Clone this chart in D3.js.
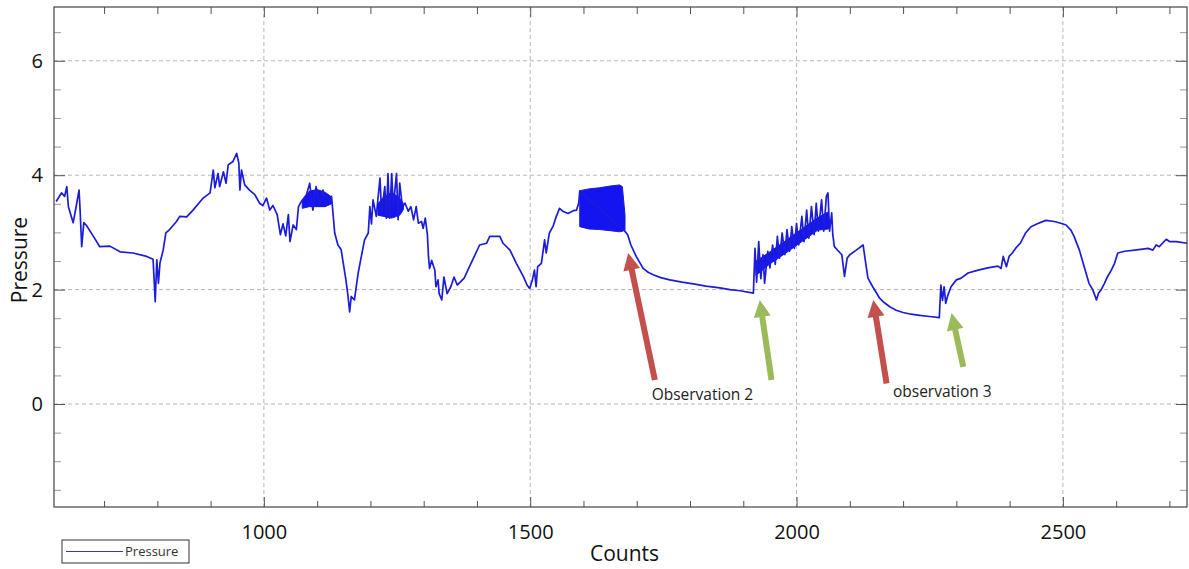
<!DOCTYPE html>
<html>
<head>
<meta charset="utf-8">
<script src="https://cdn.jsdelivr.net/npm/d3@7"></script>
<style>
  body { margin: 0; background: #fff; }
  svg text { font-family: "Open Sans", "Liberation Sans", sans-serif; }
</style>
</head>
<body>
<div id="chart"></div>
<script>
// pressure trace (counts, pressure)
const counts = [610, 620, 626, 630, 633, 642, 646, 653, 655, 658, 662, 667, 680, 692, 711, 730, 754, 780, 792, 796,
  799, 802, 805, 811, 816, 823, 836, 842, 855, 867, 886, 899, 905, 908, 914, 917, 924, 929, 933, 942,
  949, 953, 955, 958, 964, 973, 983, 992, 998, 1005, 1011, 1017, 1025, 1031, 1036, 1041, 1046, 1049, 1055, 1061,
  1065, 1071, 1080, 1086, 1092, 1098, 1105, 1111, 1117, 1127, 1133, 1139, 1145, 1154, 1158, 1161, 1164, 1170, 1177, 1183,
  1189, 1196, 1199, 1202, 1205, 1211, 1218, 1221, 1227, 1230, 1233, 1236, 1240, 1243, 1246, 1249, 1252, 1255, 1260, 1265,
  1271, 1276, 1281, 1286, 1290, 1296, 1299, 1303, 1307, 1309, 1311, 1315, 1321, 1323, 1327, 1329, 1334, 1338, 1344, 1351,
  1357, 1363, 1376, 1386, 1395, 1405, 1418, 1424, 1434, 1443, 1449, 1462, 1474, 1487, 1494, 1499, 1504, 1508, 1511, 1514,
  1521, 1527, 1530, 1536, 1543, 1549, 1555, 1561, 1571, 1581, 1587, 1591, 1593, 1676, 1683, 1689, 1699, 1712, 1722, 1731,
  1745, 1762, 1785, 1806, 1830, 1856, 1875, 1894, 1919, 1922, 1925, 1929, 1933, 1937, 1940, 1946, 1950, 1955, 1960, 1964,
  1968, 1973, 1978, 1982, 1987, 1991, 1996, 2000, 2004, 2010, 2014, 2019, 2023, 2028, 2033, 2037, 2041, 2047, 2051, 2056,
  2059, 2062, 2066, 2068, 2071, 2078, 2085, 2090, 2095, 2100, 2112, 2125, 2128, 2134, 2143, 2156, 2165, 2175, 2187, 2200,
  2215, 2231, 2250, 2268, 2271, 2274, 2277, 2280, 2284, 2290, 2300, 2309, 2322, 2341, 2359, 2378, 2384, 2388, 2394, 2399,
  2405, 2411, 2420, 2430, 2440, 2452, 2468, 2484, 2496, 2506, 2515, 2521, 2531, 2540, 2549, 2556, 2563, 2567, 2572, 2578,
  2584, 2591, 2597, 2603, 2616, 2635, 2660, 2669, 2675, 2681, 2694, 2700, 2713, 2733];
const pressure = [3.54, 3.69, 3.63, 3.80, 3.45, 3.17, 3.37, 3.74, 3.39, 2.75, 3.17, 3.12, 2.93, 2.75, 2.76, 2.66, 2.64, 2.58, 2.53, 1.79,
  2.52, 2.11, 2.47, 2.69, 2.99, 3.05, 3.19, 3.28, 3.27, 3.39, 3.60, 3.69, 4.09, 3.78, 4.03, 3.80, 4.06, 3.86, 4.18, 4.24,
  4.38, 4.21, 3.74, 4.09, 3.83, 3.74, 3.66, 3.51, 3.47, 3.60, 3.39, 3.47, 3.31, 2.96, 3.15, 2.94, 3.31, 2.84, 3.13, 3.05,
  3.45, 3.55, 3.66, 3.86, 3.39, 3.80, 3.47, 3.74, 3.47, 3.63, 2.99, 2.78, 2.70, 2.17, 1.88, 1.61, 1.88, 1.82, 2.29, 2.58,
  2.87, 2.99, 3.45, 3.15, 3.57, 3.28, 3.95, 3.34, 3.80, 3.25, 4.03, 3.25, 4.03, 3.45, 3.74, 4.03, 3.22, 3.86, 3.45, 3.51,
  3.37, 3.45, 3.22, 3.45, 3.16, 3.19, 3.07, 3.25, 2.96, 2.58, 2.37, 2.51, 2.34, 2.05, 2.17, 1.93, 1.82, 2.22, 1.93, 2.05,
  2.22, 2.08, 2.20, 2.40, 2.58, 2.78, 2.81, 2.93, 2.93, 2.93, 2.81, 2.69, 2.46, 2.23, 2.08, 2.02, 2.17, 2.34, 2.05, 2.40,
  2.46, 2.87, 2.64, 2.99, 3.11, 3.28, 3.42, 3.37, 3.33, 3.38, 3.39, 3.51, 3.72, 3.04, 2.96, 2.78, 2.58, 2.37, 2.30, 2.26,
  2.21, 2.17, 2.13, 2.10, 2.06, 2.03, 2.00, 1.98, 1.94, 2.72, 2.13, 2.84, 2.19, 2.61, 2.11, 2.67, 2.38, 2.78, 2.44, 2.93,
  2.55, 2.99, 2.61, 3.05, 2.67, 3.10, 2.72, 3.16, 2.78, 3.28, 2.84, 3.39, 2.90, 3.45, 2.96, 3.51, 3.02, 3.57, 3.02, 3.63,
  3.69, 3.02, 3.34, 2.96, 2.75, 2.68, 2.61, 2.23, 2.55, 2.61, 2.69, 2.78, 2.58, 2.20, 2.05, 1.85, 1.77, 1.70, 1.64, 1.60,
  1.57, 1.55, 1.53, 1.51, 2.08, 1.81, 2.05, 1.76, 1.90, 2.05, 2.17, 2.20, 2.29, 2.34, 2.38, 2.41, 2.37, 2.58, 2.40, 2.58,
  2.64, 2.72, 2.81, 2.99, 3.10, 3.15, 3.21, 3.19, 3.16, 3.13, 3.04, 2.93, 2.69, 2.40, 2.11, 2.00, 1.82, 1.94, 2.00, 2.11,
  2.23, 2.34, 2.46, 2.64, 2.67, 2.69, 2.72, 2.69, 2.78, 2.75, 2.88, 2.84, 2.84, 2.81];

// dense oscillation blocks, drawn as upper / lower envelopes
const band1Counts = [1593, 1610, 1630, 1650, 1668, 1673, 1678];
const band1High = [3.73, 3.76, 3.78, 3.81, 3.83, 3.80, 3.30];
const band1Low = [3.10, 3.06, 3.05, 3.03, 3.01, 3.02, 3.04];
const band2Counts = [1214, 1225, 1240, 1255, 1262];
const band2High = [3.50, 3.62, 3.70, 3.60, 3.50];
const band2Low = [3.30, 3.28, 3.25, 3.30, 3.40];
const band3Counts = [1072, 1085, 1100, 1115, 1127];
const band3High = [3.55, 3.72, 3.75, 3.70, 3.62];
const band3Low = [3.42, 3.45, 3.45, 3.45, 3.50];
const band4Counts = [1924, 1950, 1980, 2010, 2040, 2060];
const band4High = [2.50, 2.66, 2.86, 3.06, 3.26, 3.36];
const band4Low = [2.25, 2.45, 2.64, 2.84, 3.04, 3.06];

const xMajorTicks = [1000, 1500, 2000, 2500];
const xMinorTicks = [700, 800, 900, 1100, 1200, 1300, 1400, 1600, 1700, 1800, 1900, 2100, 2200, 2300, 2400, 2600, 2700];
const yMajorTicks = [0, 2, 4, 6];
const yMinorTicks = [-1.5, -1, -0.5, 0.5, 1, 1.5, 2.5, 3, 3.5, 4.5, 5, 5.5, 6.5];

// annotation arrows: tail -> tip, in data units
const arrowKind = ["red", "green", "red", "green"];
const arrowTail = [[1734, 0.42], [1953, 0.42], [2169, 0.36], [2313, 0.65]];
const arrowTip = [[1684, 2.64], [1931, 1.82], [2144, 1.82], [2291, 1.59]];
const noteText = ["Observation 2", "observation 3"];
const notePos = [[1728, 0.07], [2181, 0.13]];

const W = 1189, H = 569;
const plot = { left: 54, right: 1187, top: 7, bottom: 507 };

const svg = d3.select("#chart").append("svg")
  .attr("width", W)
  .attr("height", H);

const x = d3.scaleLinear().domain([606, 2733]).range([plot.left, plot.right]);
const y = d3.scaleLinear().domain([-1.8, 6.94]).range([plot.bottom, plot.top]);

// grid
const grid = svg.append("g").attr("stroke", "#b8b8b8").attr("stroke-dasharray", "4,3");
grid.selectAll(".gx").data(xMajorTicks).enter().append("line")
  .attr("x1", d => x(d)).attr("x2", d => x(d))
  .attr("y1", plot.top).attr("y2", plot.bottom);
grid.selectAll(".gy").data(yMajorTicks).enter().append("line")
  .attr("x1", plot.left).attr("x2", plot.right)
  .attr("y1", d => y(d)).attr("y2", d => y(d));

// axes, ticks pointing inwards
function styleAxis(g) {
  g.select(".domain").remove();
  g.selectAll(".tick line").attr("stroke", "#555");
  g.selectAll(".tick text").attr("fill", "#111").style("font-size", "20px")
    .style("font-family", "'Open Sans', sans-serif");
}

svg.append("g").attr("transform", `translate(0,${plot.bottom})`)
  .call(d3.axisBottom(x).tickValues(xMinorTicks).tickSize(-6).tickFormat(""))
  .call(styleAxis);
svg.append("g").attr("transform", `translate(0,${plot.bottom})`)
  .call(d3.axisBottom(x).tickValues(xMajorTicks).tickSize(-10).tickPadding(18).tickFormat(d3.format("d")))
  .call(styleAxis);
svg.append("g").attr("transform", `translate(0,${plot.top})`)
  .call(d3.axisTop(x).tickValues(xMinorTicks).tickSize(-7).tickFormat(""))
  .call(styleAxis);
svg.append("g").attr("transform", `translate(0,${plot.top})`)
  .call(d3.axisTop(x).tickValues(xMajorTicks).tickSize(-10).tickFormat(""))
  .call(styleAxis);

svg.append("g").attr("transform", `translate(${plot.left},0)`)
  .call(d3.axisLeft(y).tickValues(yMinorTicks).tickSize(-7).tickFormat(""))
  .call(styleAxis)
  .selectAll(".tick line").attr("stroke", "#999");
svg.append("g").attr("transform", `translate(${plot.left},0)`)
  .call(d3.axisLeft(y).tickValues(yMajorTicks).tickSize(-11).tickPadding(11).tickFormat(d3.format("d")))
  .call(styleAxis);
svg.append("g").attr("transform", `translate(${plot.right},0)`)
  .call(d3.axisRight(y).tickValues(yMinorTicks).tickSize(-7).tickFormat(""))
  .call(styleAxis)
  .selectAll(".tick line").attr("stroke", "#999");
svg.append("g").attr("transform", `translate(${plot.right},0)`)
  .call(d3.axisRight(y).tickValues(yMajorTicks).tickSize(-11).tickFormat(""))
  .call(styleAxis);

// frame
svg.append("rect")
  .attr("x", plot.left).attr("y", plot.top)
  .attr("width", plot.right - plot.left).attr("height", plot.bottom - plot.top)
  .attr("fill", "none").attr("stroke", "#444").attr("stroke-width", 1.2);

// the trace
const bands = [
  [band1Counts, band1High, band1Low],
  [band2Counts, band2High, band2Low],
  [band3Counts, band3High, band3Low],
  [band4Counts, band4High, band4Low]
].map(([cs, hs, ls]) => cs.map((c, i) => ({ c, hi: hs[i], lo: ls[i] })));

const bandArea = d3.area().x(d => x(d.c)).y0(d => y(d.lo)).y1(d => y(d.hi));
svg.selectAll(".band")
  .data(bands)
  .enter().append("path")
  .attr("class", "band")
  .attr("fill", "#1414f0")
  .attr("stroke", "#1a1ad8")
  .attr("stroke-width", 1)
  .attr("d", bandArea);

const trace = counts.map((c, i) => ({ c, v: pressure[i] }));
svg.append("path")
  .datum(trace)
  .attr("fill", "none")
  .attr("stroke", "#1c1cdc")
  .attr("stroke-width", 1.7)
  .attr("stroke-linejoin", "round")
  .attr("d", d3.line().x(d => x(d.c)).y(d => y(d.v)));

// arrows
const arrowColor = { red: "#c4504d", green: "#9bbb59" };
function arrowPath(tail, tip) {
  const x0 = x(tail[0]), y0 = y(tail[1]);
  const x1 = x(tip[0]), y1 = y(tip[1]);
  const len = Math.hypot(x1 - x0, y1 - y0);
  const ux = (x1 - x0) / len, uy = (y1 - y0) / len;
  const nx = -uy, ny = ux;
  const shaft = 3, head = 8.5, headLen = 17;
  const bx = x1 - ux * headLen, by = y1 - uy * headLen;
  const pts = [
    [x0 + nx * shaft, y0 + ny * shaft],
    [bx + nx * shaft, by + ny * shaft],
    [bx + nx * head, by + ny * head],
    [x1, y1],
    [bx - nx * head, by - ny * head],
    [bx - nx * shaft, by - ny * shaft],
    [x0 - nx * shaft, y0 - ny * shaft]
  ];
  return "M" + pts.map(p => p.join(",")).join("L") + "Z";
}
svg.selectAll(".arrow")
  .data(arrowKind)
  .enter().append("path")
  .attr("class", "arrow")
  .attr("fill", d => arrowColor[d])
  .attr("d", (d, i) => arrowPath(arrowTail[i], arrowTip[i]));

svg.selectAll(".note")
  .data(noteText)
  .enter().append("text")
  .attr("class", "note")
  .attr("x", (d, i) => x(notePos[i][0]))
  .attr("y", (d, i) => y(notePos[i][1]))
  .attr("fill", "#222")
  .style("font-size", "15.5px")
  .text(d => d);

// axis titles
svg.append("text")
  .attr("x", (plot.left + plot.right) / 2 + 4)
  .attr("y", 561)
  .attr("text-anchor", "middle")
  .attr("fill", "#111")
  .style("font-size", "21px")
  .text("Counts");

svg.append("text")
  .attr("transform", `translate(27,${(plot.top + plot.bottom) / 2 + 3}) rotate(-90)`)
  .attr("text-anchor", "middle")
  .attr("fill", "#111")
  .style("font-size", "21px")
  .text("Pressure");

// legend
const legend = svg.append("g").attr("transform", "translate(62,540)");
legend.append("rect")
  .attr("width", 127).attr("height", 23)
  .attr("fill", "#fff").attr("stroke", "#333").attr("stroke-width", 1);
legend.append("line")
  .attr("x1", 4).attr("x2", 61).attr("y1", 11.5).attr("y2", 11.5)
  .attr("stroke", "#3a3a9c").attr("stroke-width", 1.2);
legend.append("text")
  .attr("x", 63).attr("y", 16)
  .attr("fill", "#333")
  .style("font-size", "13px")
  .text("Pressure");
</script>
</body>
</html>
